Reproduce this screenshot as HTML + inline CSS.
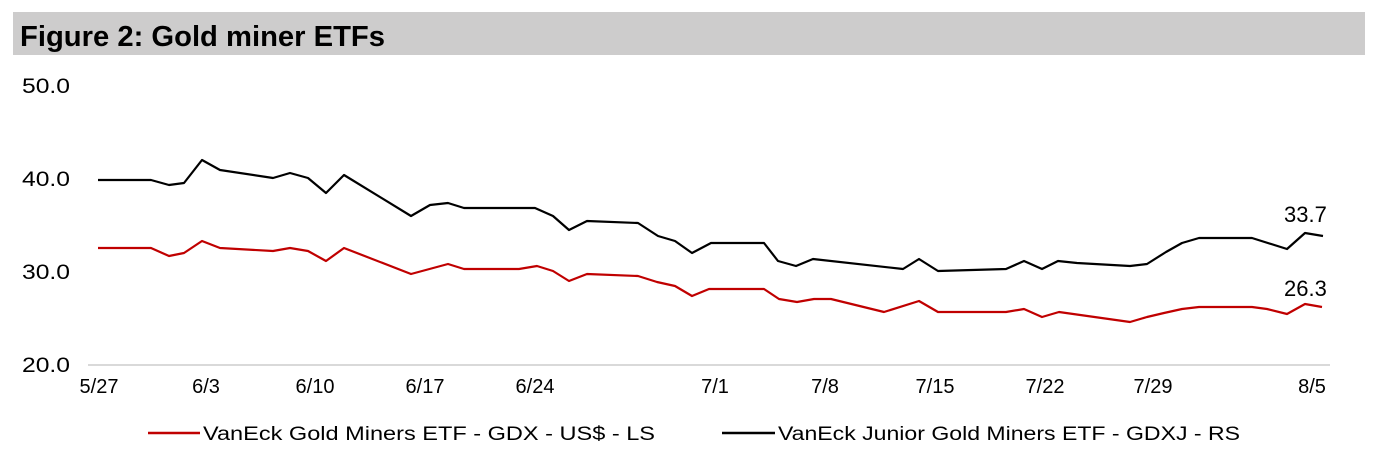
<!DOCTYPE html>
<html><head><meta charset="utf-8"><style>
html,body{margin:0;padding:0;background:#fff;}
</style></head><body>
<svg width="1381" height="451" xmlns="http://www.w3.org/2000/svg" style="display:block;font-family:'Liberation Sans',Arial,sans-serif">
<rect x="13" y="12" width="1352" height="43" fill="#cdcccc"/>
<text x="20" y="46" font-size="29" font-weight="bold" fill="#000" textLength="365" lengthAdjust="spacingAndGlyphs">Figure 2: Gold miner ETFs</text>
<g font-size="21" fill="#000">
<text x="22" y="93" textLength="48" lengthAdjust="spacingAndGlyphs">50.0</text>
<text x="22" y="186" textLength="48" lengthAdjust="spacingAndGlyphs">40.0</text>
<text x="22" y="279" textLength="48" lengthAdjust="spacingAndGlyphs">30.0</text>
<text x="22" y="372" textLength="48" lengthAdjust="spacingAndGlyphs">20.0</text>
</g>
<line x1="88" y1="365" x2="1330" y2="365" stroke="#d9d9d9" stroke-width="2"/>
<g font-size="20" fill="#000" text-anchor="middle">
<text x="99" y="393">5/27</text><text x="206" y="393">6/3</text><text x="315" y="393">6/10</text>
<text x="425" y="393">6/17</text><text x="535" y="393">6/24</text><text x="715" y="393">7/1</text>
<text x="825" y="393">7/8</text><text x="935" y="393">7/15</text><text x="1045" y="393">7/22</text>
<text x="1153" y="393">7/29</text><text x="1312" y="393">8/5</text>
</g>
<polyline fill="none" stroke="#000" stroke-width="2.2" stroke-linejoin="round" points="98,180 151,180 169,185 184,183 202,160 220,170 273,178 290,173 308,178 326,193 344,175 411,216 430,205 448,203 464,208 535,208 553,216 569,230 587,221 638,223 658,236 675,241 692,253 711,243 764,243 778,261 796,266 813,259 903,269 919,259 938,271 1006,269 1024,261 1042,269 1058,261 1077,263 1130,266 1147,264 1166,252 1182,243 1199,238 1252,238 1287,249 1305,233 1323,236"/>
<polyline fill="none" stroke="#c00000" stroke-width="2.2" stroke-linejoin="round" points="98,248 151,248 169,256 184,253 202,241 220,248 273,251 290,248 308,251 326,261 344,248 411,274 448,264 464,269 519,269 537,266 553,271 569,281 587,274 638,276 657,282 675,286 692,296 709,289 764,289 779,299 797,302 814,299 831,299 884,312 919,301 938,312 1006,312 1024,309 1042,317 1059,312 1130,322 1147,317 1164,313 1182,309 1199,307 1252,307 1267,309 1287,314 1305,304 1322,307"/>
<text x="1284" y="222" font-size="22">33.7</text>
<text x="1284" y="296" font-size="22">26.3</text>
<line x1="148" y1="433" x2="200" y2="433" stroke="#c00000" stroke-width="2.5"/>
<text x="203" y="440" font-size="19" textLength="452" lengthAdjust="spacingAndGlyphs">VanEck Gold Miners ETF  - GDX  - US$ - LS</text>
<line x1="722" y1="433" x2="775" y2="433" stroke="#000" stroke-width="2.5"/>
<text x="778" y="440" font-size="19" textLength="462" lengthAdjust="spacingAndGlyphs">VanEck Junior Gold Miners ETF - GDXJ - RS</text>
</svg>
</body></html>
